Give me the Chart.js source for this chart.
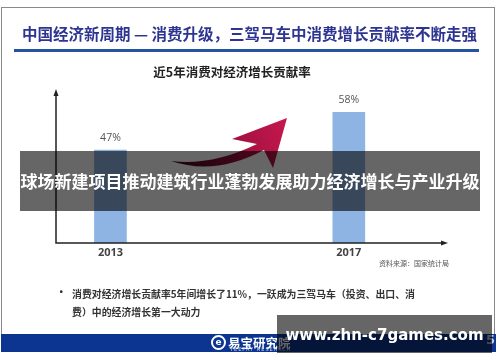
<!DOCTYPE html>
<html>
<head>
<meta charset="utf-8">
<script src="https://cdn.jsdelivr.net/npm/chart.js@4.4.0/dist/chart.umd.min.js"></script>
<style>
body { margin: 0; background: #fff; }
#wrap { position: relative; width: 500px; height: 362px; overflow: hidden; font-family: "Noto Sans CJK SC", "Noto Sans", sans-serif; }
#frame { position: absolute; left: 1px; top: 7px; width: 494px; height: 345px; border: 1px solid #8a8a8a; border-bottom: none; box-sizing: border-box; }
#c { position: absolute; left: 0; top: 0; }
.txt { position: absolute; white-space: nowrap; }
#title { left: 22px; top: 22px; font-size: 15.5px; font-weight: bold; color: #2d3590; }
#rule { position: absolute; left: 14px; top: 49px; width: 465px; height: 2.5px; background: #2453a3; }
#ctitle { left: 0; width: 464px; text-align: center; top: 62px; font-size: 12.5px; font-weight: bold; color: #222; }
#source { right: 51px; top: 258px; font-size: 7px; color: #555; }
#bullet { left: 56px; top: 284px; font-size: 10.5px; font-weight: bold; color: #333; }
#note { left: 72px; top: 285px; font-size: 9.9px; font-weight: bold; color: #333; line-height: 18px; }
#footer { position: absolute; left: 1px; top: 334px; width: 495px; height: 18px; background: #0b3590; }
#logo { left: 228px; top: 333px; font-size: 12.5px; color: #fff; font-weight: bold; }
#logosub { left: 230px; top: 346px; font-size: 5px; color: #cfd6ea; letter-spacing: 1px; font-family: "DejaVu Sans", sans-serif; }
#icon { position: absolute; left: 211px; top: 335px; width: 11px; height: 11px; border: 2px solid #fff; border-radius: 50%; color: #fff; font: bold 9px "DejaVu Sans", sans-serif; text-align: center; line-height: 11px; }
#page { left: 486px; top: 332px; font: bold 13px "DejaVu Sans", sans-serif; color: #c8cde0; }
#band { position: absolute; left: 20px; top: 151px; width: 460px; height: 60px; background: rgba(0,0,0,0.6); color: #fff; font-size: 17px; font-weight: bold; text-align: center; line-height: 60px; white-space: nowrap; }
#wm { position: absolute; left: 277px; top: 315px; width: 215px; height: 38px; background: rgba(0,0,0,0.6); color: #fff; font: bold 15px "DejaVu Sans", sans-serif; text-align: center; line-height: 40px; white-space: nowrap; }
</style>
</head>
<body>
<div id="wrap">
  <div id="frame"></div>
  <canvas id="c" width="500" height="362"></canvas>
  <div class="txt" id="title">中国经济新周期 — 消费升级，三驾马车中消费增长贡献率不断走强</div>
  <div id="rule"></div>
  <div class="txt" id="ctitle">近5年消费对经济增长贡献率</div>
  <div class="txt" id="source">资料来源：国家统计局</div>
  <div class="txt" id="bullet">•</div>
  <div class="txt" id="note">消费对经济增长贡献率5年间增长了11%，一跃成为三驾马车（投资、出口、消<br>费）中的经济增长第一大动力</div>
  <div id="footer"></div>
  <div id="icon">e</div>
  <div class="txt" id="logo">易宝研究院</div>
  <div class="txt" id="logosub">YEEPAY RESEARCH</div>
  <div class="txt" id="page">5</div>
  <div id="band">球场新建项目推动建筑行业蓬勃发展助力经济增长与产业升级</div>
  <div id="wm">www.zhn-c7games.com</div>
</div>
<script>
// values
const years = [2013, 2017];
const yearLabels = ['2013', '2017'];
const contribution = [47, 58];   // 消费对经济增长贡献率 (%)
const yMin = 20;
const yMax = 63;

const decor = {
    id: 'decor',
    afterDatasetsDraw(chart) {
        const ctx = chart.ctx;
        const a = chart.chartArea;
        ctx.save();

        // axes with arrow heads
        ctx.strokeStyle = '#222';
        ctx.fillStyle = '#222';
        ctx.lineWidth = 1.5;
        ctx.beginPath();
        ctx.moveTo(a.left, a.top - 2);
        ctx.lineTo(a.left, a.bottom);
        ctx.lineTo(a.right + 4, a.bottom);
        ctx.stroke();
        ctx.beginPath();
        ctx.moveTo(a.left, a.top - 6);
        ctx.lineTo(a.left - 2.5, a.top + 1);
        ctx.lineTo(a.left + 2.5, a.top + 1);
        ctx.closePath();
        ctx.fill();
        ctx.beginPath();
        ctx.moveTo(a.right + 8, a.bottom);
        ctx.lineTo(a.right + 1, a.bottom - 2.5);
        ctx.lineTo(a.right + 1, a.bottom + 2.5);
        ctx.closePath();
        ctx.fill();

        // value labels
        ctx.fillStyle = '#555';
        ctx.font = '10.5px "Open Sans", "Noto Sans", sans-serif';
        ctx.textAlign = 'center';
        ctx.textBaseline = 'middle';
        chart.getDatasetMeta(0).data.forEach((bar, i) => {
            ctx.fillText(contribution[i] + '%', bar.x, bar.y - 12);
        });

        // red growth arrow
        const g = ctx.createLinearGradient(170, 162, 287, 118);
        g.addColorStop(0, '#3c0818');
        g.addColorStop(0.55, '#a0123f');
        g.addColorStop(1, '#c8174f');
        ctx.fillStyle = g;
        ctx.beginPath();
        ctx.moveTo(171, 161);
        ctx.quadraticCurveTo(215, 176, 264, 150);
        ctx.lineTo(273, 168);
        ctx.lineTo(287, 118);
        ctx.lineTo(232, 139);
        ctx.lineTo(257, 144);
        ctx.quadraticCurveTo(212, 166, 171, 161);
        ctx.closePath();
        ctx.fill();

        ctx.restore();
    }
};

new Chart(document.getElementById('c'), {
    type: 'bar',
    data: {
        datasets: [{
            data: years.map((y, i) => ({ x: y, y: contribution[i] })),
            backgroundColor: '#8db4e2',
            barThickness: 32,
            base: yMin
        }]
    },
    options: {
        responsive: false,
        animation: false,
        layout: { padding: { left: 56, right: 60, top: 95, bottom: 0 } },
        plugins: { legend: { display: false }, tooltip: { enabled: false } },
        scales: {
            x: {
                type: 'linear',
                offset: false,
                min: 2012.086,
                max: 2018.53,
                grid: { display: false, drawTicks: false, offset: false },
                border: { display: false },
                afterBuildTicks: s => { s.ticks = years.map(v => ({ value: v })); },
                afterFit: s => { s.height = 119; },
                ticks: {
                    padding: 3,
                    color: '#444',
                    font: { size: 11, weight: 'bold', family: '"Open Sans", "Noto Sans", sans-serif' },
                    callback: v => yearLabels[years.indexOf(v)]
                }
            },
            y: { display: false, min: yMin, max: yMax }
        }
    },
    plugins: [decor]
});
</script>
</body>
</html>
